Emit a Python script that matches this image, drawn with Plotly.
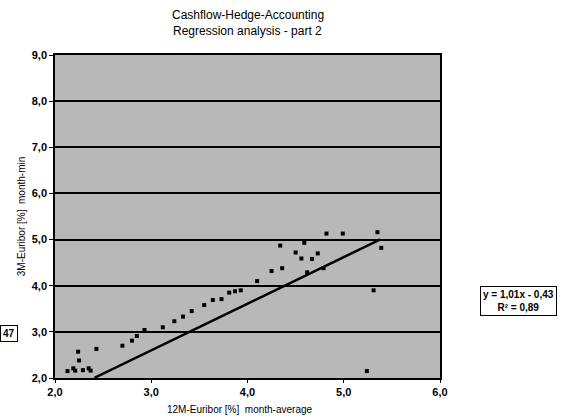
import plotly.graph_objects as go

# data
x_avg = [2.13, 2.19, 2.21, 2.24, 2.25, 2.29, 2.35, 2.37, 2.43, 2.70, 2.80, 2.85, 2.93,
         3.12, 3.24, 3.33, 3.42, 3.55, 3.64, 3.73, 3.81, 3.87, 3.93, 4.10, 4.25, 4.36,
         4.34, 4.50, 4.56, 4.59, 4.62, 4.67, 4.73, 4.79, 4.82, 4.99, 5.35, 5.39, 5.31, 5.24]
y_min = [2.15, 2.21, 2.16, 2.57, 2.38, 2.17, 2.21, 2.16, 2.63, 2.70, 2.81, 2.91, 3.04,
         3.10, 3.23, 3.33, 3.45, 3.58, 3.69, 3.71, 3.85, 3.88, 3.90, 4.10, 4.32, 4.38,
         4.87, 4.72, 4.59, 4.93, 4.29, 4.58, 4.70, 4.38, 5.13, 5.13, 5.16, 4.82, 3.90, 2.15]

slope = 1.01
intercept = -0.43
fit_x_range = [2.41, 5.38]
fit_y = [slope * v + intercept for v in fit_x_range]

x_ticks = [2, 3, 4, 5, 6]
y_ticks = [2, 3, 4, 5, 6, 7, 8, 9]

title_lines = ["Cashflow-Hedge-Accounting", "Regression analysis - part 2"]

font = "Liberation Sans, Arial, sans-serif"

fig = go.Figure()
fig.add_trace(go.Scatter(x=fit_x_range, y=fit_y, mode="lines",
                         line=dict(color="black", width=2.5), showlegend=False))
fig.add_trace(go.Scatter(x=x_avg, y=y_min, mode="markers",
                         marker=dict(symbol="square", size=4, color="black"),
                         showlegend=False))

fig.update_layout(
    width=571, height=419,
    margin=dict(l=55, r=131, t=55, b=41),
    paper_bgcolor="white",
    plot_bgcolor="#b8b8b8",
    separators=",.",
    font=dict(family=font, color="black", size=10),
    xaxis=dict(range=[2, 6], tickvals=x_ticks, tickformat=".1f", showgrid=False,
               zeroline=False, showline=True, linecolor="black", linewidth=1.5,
               mirror=True, ticks="outside", ticklen=3, tickcolor="black",
               tickfont=dict(size=11, family=font, weight="bold")),
    yaxis=dict(range=[2, 9], tickvals=y_ticks, tickformat=".1f", showgrid=True,
               gridcolor="black", gridwidth=2, zeroline=False, showline=True,
               linecolor="black", linewidth=1.5, mirror=True, ticks="outside",
               ticklen=4, tickcolor="black",
               tickfont=dict(size=11, family=font, weight="bold"),
               title=dict(text="3M-Euribor [%]  month-min", font=dict(size=10), standoff=4)),
    annotations=[
        dict(text=title_lines[0],
             xref="paper", yref="paper", x=0.5, y=1.123, xanchor="center", yanchor="middle",
             showarrow=False, font=dict(size=12, family=font)),
        dict(text=title_lines[1],
             xref="paper", yref="paper", x=0.5, y=1.075, xanchor="center", yanchor="middle",
             showarrow=False, font=dict(size=12, family=font)),
        dict(text="12M-Euribor [%]  month-average",
             xref="paper", yref="paper", x=0.48, y=-0.098, xanchor="center", yanchor="middle",
             showarrow=False, font=dict(size=10, family=font)),
        dict(text="<b>y = 1,01x - 0,43</b><br><b>R² = 0,89</b>",
             xref="paper", yref="paper", x=1.203, y=0.238, xanchor="center", yanchor="middle",
             showarrow=False, font=dict(size=10, family=font), bordercolor="black",
             borderwidth=1, borderpad=2, bgcolor="white"),
        dict(text="<b>47</b>", xref="paper", yref="paper", x=-0.119, y=0.139,
             xanchor="center", yanchor="middle", showarrow=False,
             font=dict(size=10, family=font), bordercolor="black", borderwidth=1,
             borderpad=2, bgcolor="white"),
    ],
)

fig.write_html("out.html",
               config={"displayModeBar": False},
               post_script="document.body.style.margin='0';document.body.style.overflow='hidden';")
